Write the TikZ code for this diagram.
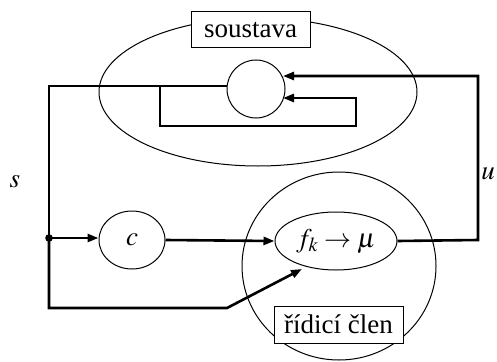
\documentclass[tikz,border=0pt]{standalone}
\usepackage{mathptmx}
\usepackage{fontspec}
\newfontfamily\tnr{Liberation Serif}
\usetikzlibrary{arrows.meta,shapes.geometric}
\begin{document}
\begin{tikzpicture}[x=1pt,y=-1pt,
  thinline/.style={draw=black,line width=1pt},
  conn/.style={draw=black,line width=2.6pt},
  arr/.style={conn,-{Triangle[length=11pt,width=8pt]}},
  lbl/.style={draw=black,line width=1pt,fill=white,inner sep=3pt,font=\tnr\fontsize{27}{30}\selectfont},
  mathlbl/.style={font=\fontsize{27}{30}\selectfont}]
\useasboundingbox (0,0) rectangle (497,361);
% ellipses
\node[thinline,ellipse,minimum width=318pt,minimum height=148pt,inner sep=0pt] (sys) at (258,92) {};
\node[thinline,circle,minimum size=58pt,inner sep=0pt] (plant) at (256,89) {};
\node[thinline,ellipse,minimum width=194pt,minimum height=188pt,inner sep=0pt] (ctrl) at (339,266) {};
\node[thinline,ellipse,minimum width=66pt,minimum height=58pt,inner sep=0pt,mathlbl] (c) at (132,240) {$c$};
\node[thinline,ellipse,minimum width=122pt,minimum height=58pt,inner sep=0pt,mathlbl] (fk) at (336,241) {$f_k\rightarrow\mu$};
\node[lbl,minimum width=119pt,minimum height=36pt] (soustava) at (250.5,30) {soustava};
\node[lbl,minimum width=129pt,minimum height=37pt] (ridici) at (338.5,324.5) {řídicí člen};
% labels
\node[mathlbl] (s) at (15,182) {$s$};
\node[mathlbl] (u) at (488,174) {$u$};
% coordinates
\coordinate (dot) at (49,238);
\coordinate (lt) at (49,86);
\coordinate (br) at (160,86);
\coordinate (lb) at (49,308);
\coordinate (mid) at (227,308);
\coordinate (fkin) at (302,269);
\coordinate (rt) at (478,76);
\coordinate (rb) at (478,240);
\coordinate (pin1) at (283,76);
\coordinate (pin2) at (283,98);
% connectors
\draw[conn] (plant.west |- br) -- (lt) -- (dot);
\draw[arr] (br) -- (160,126) -- (356,126) -- (356,98) -- (pin2);
\draw[arr] (fk.east) -- (rb) -- (rt) -- (pin1);
\fill (dot) circle (3.8pt);
\draw[arr] (dot) -- (c.west |- dot);
\draw[arr] (c.east) -- (fk.west);
\draw[arr] (dot) -- (lb) -- (mid) -- (fkin);
\end{tikzpicture}
\end{document}
